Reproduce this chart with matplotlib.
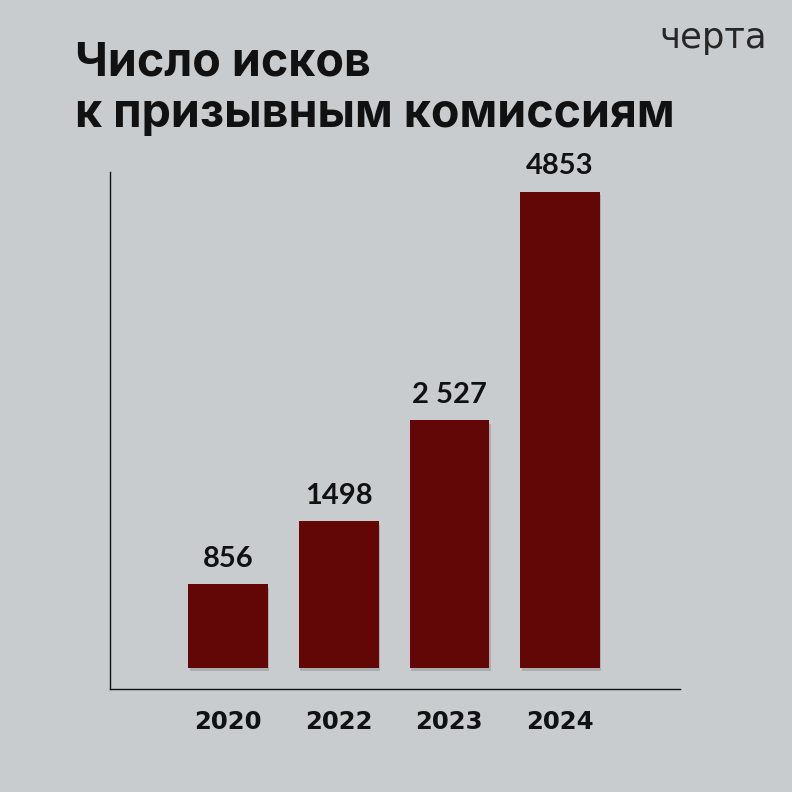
import numpy as np
import matplotlib
matplotlib.use("Agg")
import matplotlib.pyplot as plt
import matplotlib.patheffects as pe

years = ["2020", "2022", "2023", "2024"]
values = [856, 1498, 2527, 4853]
value_labels = ["856", "1498", "2 527", "4853"]

bg = "#c9ccce"
bar_color = "#630606"

fig = plt.figure(figsize=(7.92, 7.92), dpi=100, facecolor=bg)
ax = fig.add_axes([110 / 792, 103 / 792, 570 / 792, 517 / 792])
ax.set_facecolor(bg)

x = np.arange(len(years))
bars = ax.bar(x, values, width=0.72, color=bar_color, zorder=2)
for b in bars:
    b.set_path_effects([pe.SimplePatchShadow(offset=(1.0, -2.5), shadow_rgbFace="#666666", alpha=0.3),
                        pe.Normal()])

for xi, v, lab in zip(x, values, value_labels):
    ax.annotate(lab, (xi, v), xytext=(0, 9), textcoords="offset points",
                ha="center", va="bottom", fontsize=21, fontweight="bold",
                family="Lato", color="#111111")

ax.set_xlim(-1.066, 4.083)
ax.set_ylim(-214, 5056)
ax.set_yticks([])
ax.set_xticks(x)
ax.set_xticklabels(years, fontsize=17.6, fontweight="bold", family="DejaVu Sans", color="#111111")
ax.tick_params(axis="x", length=0, pad=15)
for s in ["top", "right"]:
    ax.spines[s].set_visible(False)
for s in ["left", "bottom"]:
    ax.spines[s].set_color("#111111")
    ax.spines[s].set_linewidth(1.0)

# title, two lines
fig.text(75 / 792, 1 - 75 / 792, "Число исков",
         fontsize=33.5, fontweight="bold", family="Inter", color="#111111",
         ha="left", va="baseline")
fig.text(75 / 792, 1 - 127 / 792, "к призывным комиссиям",
         fontsize=33.5, fontweight="bold", family="Inter", color="#111111",
         ha="left", va="baseline")

fig.text(767 / 792, 1 - 48 / 792, "черта", fontsize=25.5, family="DejaVu Sans",
         color="#262626", ha="right", va="baseline")

fig.savefig("out.png", dpi=100, facecolor=bg)
